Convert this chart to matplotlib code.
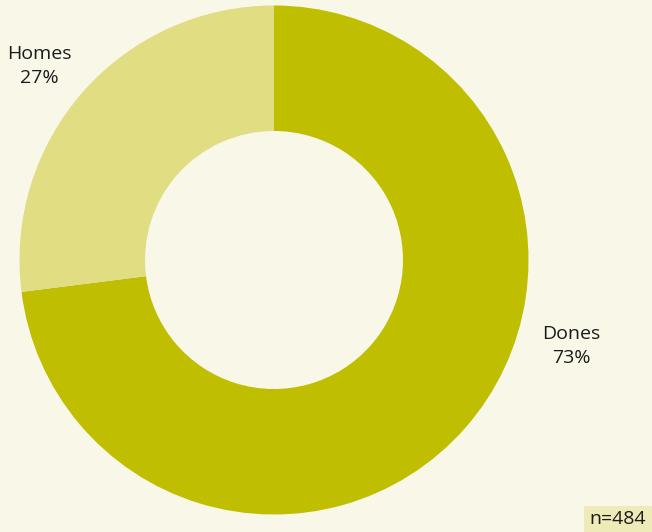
import matplotlib.pyplot as plt
from matplotlib.patches import Rectangle

labels = ["Dones", "Homes"]
shares = [73, 27]
sample_n = 484

colors = ["#bfbe00", "#e0dd82"]
bg = "#f8f7e8"

plt.rcParams["font.family"] = ["Open Sans", "DejaVu Sans"]

fig = plt.figure(figsize=(6.52, 5.32), dpi=100, facecolor=bg)
ax = fig.add_axes([0, 0, 1, 1])
ax.set_facecolor(bg)
ax.set_xlim(0, 652)
ax.set_ylim(0, 532)
ax.set_aspect("equal")
ax.axis("off")

# donut, drawn clockwise from 12 o'clock
ax.pie(shares, colors=colors, startangle=90, counterclock=False,
       center=(274, 272), radius=254.5,
       wedgeprops=dict(width=125.5, linewidth=0))
ax.set_xlim(0, 652)
ax.set_ylim(0, 532)

label_pos = {"Dones": (571, 186), "Homes": (39, 466)}
for lab, val in zip(labels, shares):
    x, y = label_pos[lab]
    ax.text(x, y, f"{lab}\n{val}%", ha="center", va="center",
            fontsize=14, linespacing=1.45, color="#1a1a1a")

ax.add_patch(Rectangle((584, 0), 68, 26, facecolor="#eeebb8", edgecolor="none"))
ax.text(618, 12.5, f"n={sample_n}", ha="center", va="center",
        fontsize=14, color="#1a1a1a")

fig.savefig("out.png", dpi=100, facecolor=bg)
